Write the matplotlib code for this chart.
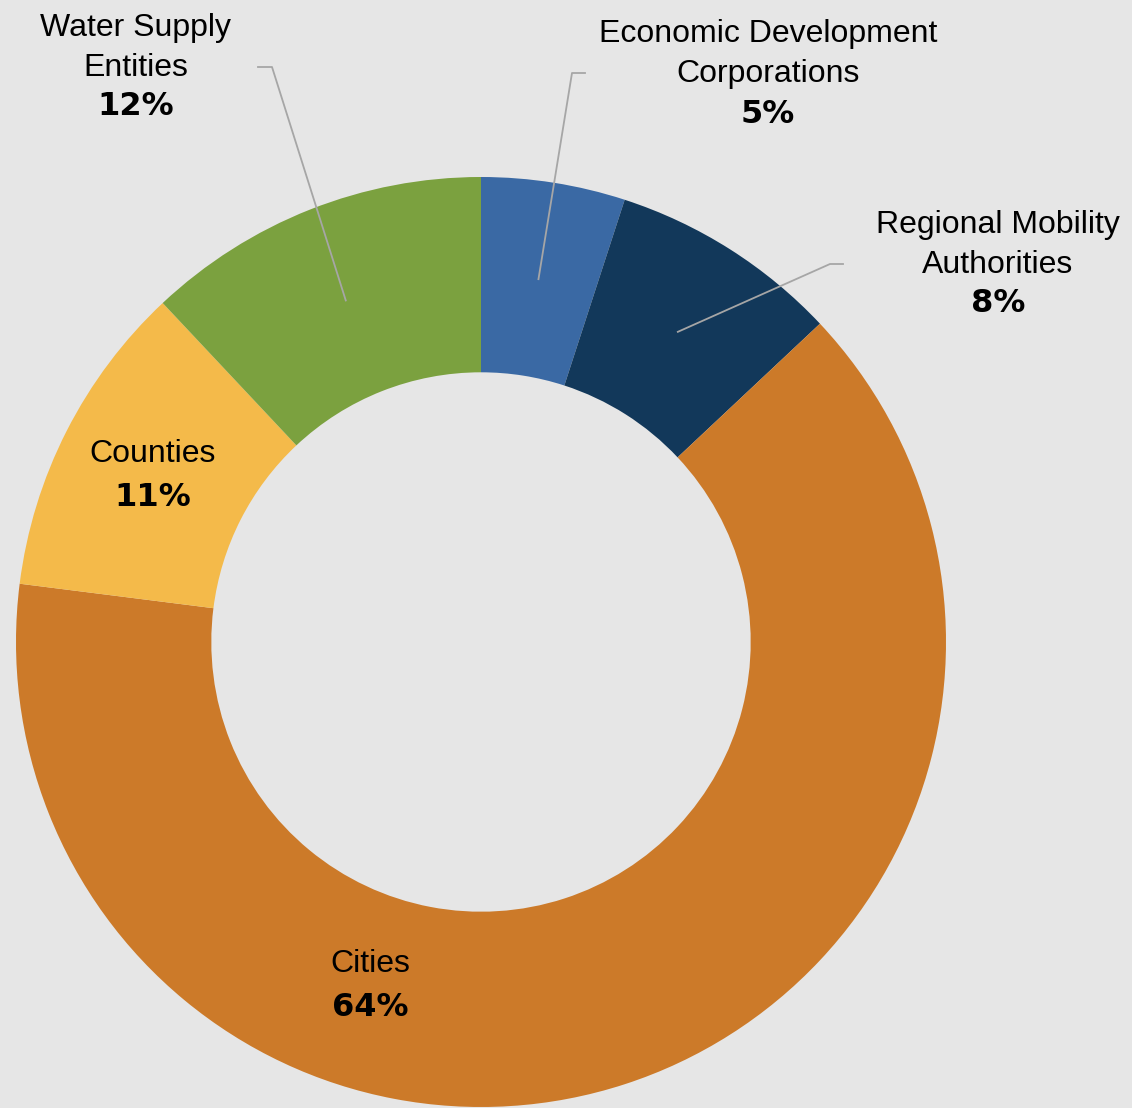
import numpy as np
import matplotlib
matplotlib.use("Agg")
import matplotlib.pyplot as plt

# data, clockwise from 12 o'clock
labels = ["Economic Development\nCorporations", "Regional Mobility\nAuthorities",
          "Cities", "Counties", "Water Supply\nEntities"]
shares = [5, 8, 64, 11, 12]
colors = ["#3A69A4", "#12385A", "#CC7A29", "#F4BA4A", "#7BA13F"]

BG = "#E6E6E6"
LINE = "#A6A6A6"
W, H = 1132, 1108
CX, CY, R = 481, 642, 465  # pie centre and radius in pixels
HOLE = 0.58

plt.rcParams["font.family"] = ["Liberation Sans", "DejaVu Sans"]

fig = plt.figure(figsize=(W / 100, H / 100), dpi=100, facecolor=BG)
ax = fig.add_axes([(CX - R) / W, (H - CY - R) / H, 2 * R / W, 2 * R / H])
ax.set_facecolor(BG)

wedges, _ = ax.pie(shares, colors=colors, startangle=90, counterclock=False,
                   radius=1, wedgeprops=dict(width=1 - HOLE, linewidth=0))
ax.set_xlim(-1, 1)
ax.set_ylim(-1, 1)
ax.set_aspect("equal")
ax.axis("off")


def px(x, y):
    """pixel position in the reference -> data coords"""
    return (x - CX) / R, (CY - y) / R


def mid(w, r=(1 + HOLE) / 2):
    a = np.deg2rad((w.theta1 + w.theta2) / 2)
    return r * np.cos(a), r * np.sin(a)


# label anchors (centre of name block) and leader elbows, in pixels
outside = {
    0: dict(text=(768, 54), pct=(768, 114), elbow=(572, 73), stub=(585, 73)),
    1: dict(text=(998, 245), pct=(998, 304), elbow=(830, 264), stub=(843, 264)),
    4: dict(text=(136, 48), pct=(136, 106), elbow=(272, 67), stub=(258, 67)),
}
inside = {2: (370, 964), 3: (153, 454)}

FS = 23
PCT = dict(fontsize=23, fontweight="bold", family="DejaVu Sans", color="black")
for i, (lab, val, w) in enumerate(zip(labels, shares, wedges)):
    if i in outside:
        o = outside[i]
        tx, ty = px(*o["text"])
        ax.text(tx, ty, lab, ha="center", va="center", fontsize=FS,
                linespacing=1.45, color="black")
        pxx, pyy = px(*o["pct"])
        ax.text(pxx, pyy, f"{val}%", ha="center", va="center", **PCT)
        ex, ey = px(*o["elbow"])
        sx, sy = px(*o["stub"])
        mx, my = mid(w)
        ax.plot([sx, ex, mx], [sy, ey, my], color=LINE, lw=1.3, clip_on=False)
    else:
        tx, ty = px(*inside[i])
        ax.text(tx, ty, lab, ha="center", va="center", fontsize=FS, color="black")
        ax.text(tx, ty - 43 / R, f"{val}%", ha="center", va="center", **PCT)

fig.savefig("out.png", dpi=100, facecolor=BG)
